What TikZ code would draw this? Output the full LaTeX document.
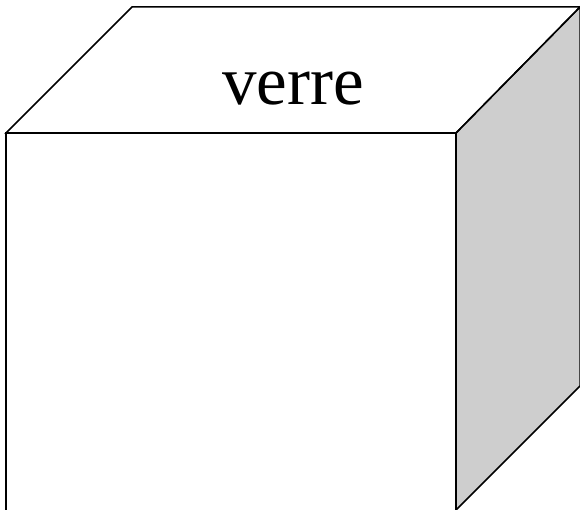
\documentclass[tikz,border=0pt]{standalone}
\usepackage{fontspec}
\setmainfont{Liberation Serif}
\begin{document}
\begin{tikzpicture}[x=1pt,y=-1pt,edge/.style={line width=1.5pt,line join=miter}]
\useasboundingbox (0,0) rectangle (580,510);
\clip (0,0) rectangle (580,510);
\coordinate (ftl) at (6,133);
\coordinate (ftr) at (456,133);
\coordinate (fbl) at (6,530);
\coordinate (fbr) at (456,530);
\coordinate (sbl) at (456,510);
\coordinate (btl) at (132,7);
\coordinate (btr) at (580,7);
\coordinate (bbr) at (580,386);
\fill[white] (ftl) -- (btl) -- (btr) -- (ftr) -- cycle;
\filldraw[fill={rgb,255:red,206;green,206;blue,206},edge] (ftr) -- (btr) -- (bbr) -- (sbl) -- cycle;
\draw[edge] (ftl) -- (btl) -- (btr) -- (ftr) -- cycle;
\draw[edge] (fbl) -- (ftl) -- (ftr) -- (fbr);
\node[font=\fontsize{69}{75}\selectfont, anchor=base] (lbl) at (293,105) {verre};
\end{tikzpicture}
\end{document}
